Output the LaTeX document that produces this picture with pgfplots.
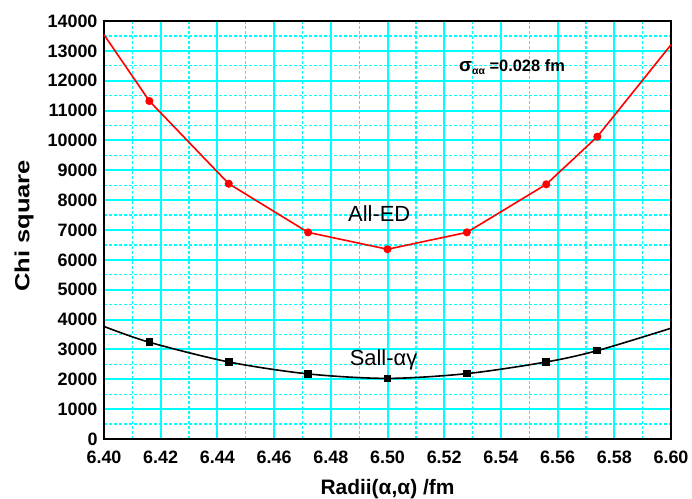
\documentclass[border=0pt]{standalone}
\usepackage{pgfplots}
\pgfplotsset{compat=1.18}
\usepackage{graphicx}
\usepackage{fontspec}
\setmainfont{Liberation Sans}
\definecolor{gridcyan}{RGB}{0,255,255}
\definecolor{pred}{RGB}{255,0,0}
\begin{document}
\begin{tikzpicture}
\useasboundingbox (-104bp,-60bp) rectangle (588bp,439bp);
\begin{axis}[
  at={(0,0)}, anchor=south west,
  scale only axis, width=567bp, height=418bp,
  xmin=6.40, xmax=6.60, ymin=0, ymax=14000,
  xtick={6.40,6.42,6.44,6.46,6.48,6.50,6.52,6.54,6.56,6.58,6.60},
  ytick={0,1000,2000,3000,4000,5000,6000,7000,8000,9000,10000,11000,12000,13000,14000},
  scaled x ticks=false, scaled y ticks=false,
  minor x tick num=1, minor y tick num=1,
  grid=both,
  major grid style={gridcyan, line width=2bp},
  minor grid style={gridcyan, line width=1.3bp, dash pattern=on 3bp off 2bp},
  major tick length=0pt, minor tick length=0pt,
  axis line style={black, line width=2.6bp},
  /pgf/number format/assume math mode=true,
  xticklabel style={font=\bfseries\fontsize{18}{18}\selectfont, anchor=base, yshift=-24bp,
    /pgf/number format/fixed, /pgf/number format/fixed zerofill, /pgf/number format/precision=2},
  yticklabel style={font=\bfseries\fontsize{18}{18}\selectfont, xshift=-3bp,
    /pgf/number format/fixed, /pgf/number format/1000 sep={}},
  every axis y label/.style={at={(axis description cs:-0.141,0.51)}, rotate=90, anchor=center},
  every axis x label/.style={at={(axis description cs:0.5,-0.1316)}, anchor=base},
  ylabel={\bfseries\fontsize{20.5}{20.5}\selectfont\scalebox{1.25}[1]{Chi square}},
  xlabel={\bfseries\fontsize{21}{21}\selectfont Radii(α,α) /fm},
  clip=false,
]
\addplot[pred, line width=1.6bp, sharp plot, mark=*, mark size=3.2bp, mark indices={2,3,4,5,6,7,8},
  mark options={fill=pred, draw=pred}] coordinates {
  (6.400,13540) (6.416,11320) (6.444,8550) (6.472,6920) (6.500,6355)
  (6.528,6920) (6.556,8530) (6.574,10125) (6.600,13205)};
\addplot[black, line width=1.6bp, smooth, tension=0.5, mark=square*, mark size=3bp, mark indices={2,3,4,5,6,7,8},
  mark options={fill=black, draw=black}] coordinates {
  (6.400,3770) (6.416,3240) (6.444,2580) (6.472,2180) (6.500,2030)
  (6.528,2190) (6.556,2580) (6.574,2960) (6.600,3710)};
\node[anchor=base, inner sep=0pt, font=\fontsize{22}{22}\selectfont] at (axis cs:6.4971,7277) {All-ED};
\node[anchor=base, inner sep=0pt, font=\fontsize{22}{22}\selectfont] at (axis cs:6.4986,2455) {Sall-αγ};
\node[anchor=base west, inner sep=0pt] at (axis cs:6.5252,12300)
  {\bfseries\fontsize{19}{19}\selectfont σ\raisebox{-3bp}{\fontsize{10.5}{10.5}\selectfont αα}\fontsize{16.5}{16.5}\selectfont\ =0.028 fm};
\end{axis}
\end{tikzpicture}
\end{document}
